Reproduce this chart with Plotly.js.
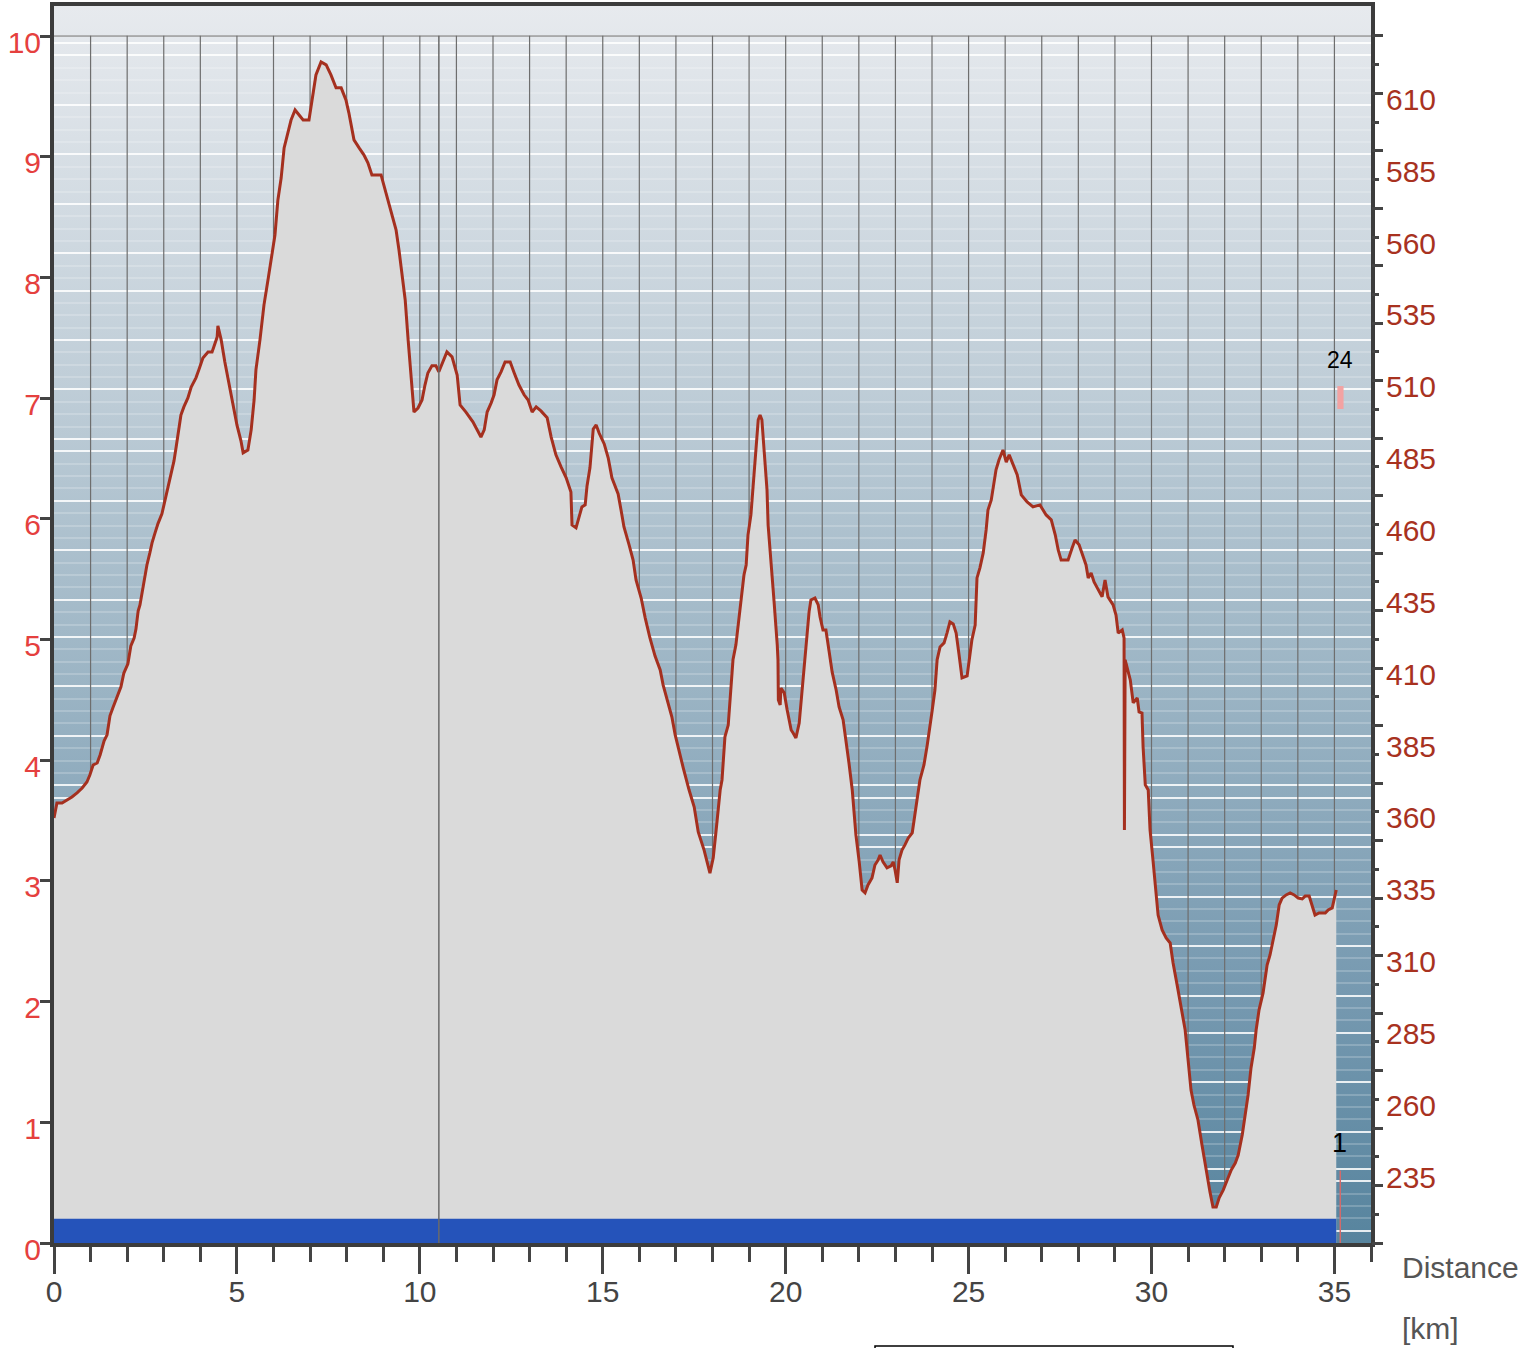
<!DOCTYPE html>
<html>
<head>
<meta charset="utf-8">
<script src="https://cdn.plot.ly/plotly-3.0.1.min.js"></script>
<style>html,body{margin:0;padding:0;background:#fff;}#chart{width:1527px;height:1348px;}</style>
</head>
<body>
<div id="chart"></div>
<script>
// ---- Data ----
// distance along the route [km]
const distanceKm = [
0,0.08,0.22,0.36,0.49,0.63,0.77,0.90,0.98,1.07,
1.18,1.26,1.37,1.45,1.53,1.61,1.72,1.83,1.91,2.02,
2.10,2.19,2.24,2.30,2.35,2.43,2.49,2.54,2.62,2.68,
2.76,2.84,2.95,3.01,3.09,3.17,3.28,3.34,3.39,3.47,
3.55,3.66,3.75,3.88,3.96,4.07,4.21,4.32,4.37,4.46,
4.48,4.57,4.67,4.78,4.89,5.00,5.11,5.17,5.30,5.39,
5.47,5.52,5.63,5.74,5.85,5.96,6.04,6.12,6.21,6.29,
6.40,6.48,6.59,6.70,6.81,6.97,7.05,7.16,7.30,7.44,
7.57,7.71,7.85,7.98,8.06,8.20,8.34,8.47,8.58,8.69,
8.94,9.05,9.16,9.24,9.35,9.43,9.51,9.60,9.68,9.76,
9.84,9.95,10.06,10.14,10.22,10.33,10.44,10.52,10.63,10.74,
10.88,11.02,11.10,11.26,11.45,11.59,11.67,11.76,11.84,11.95,
12.03,12.11,12.22,12.33,12.47,12.58,12.71,12.85,12.96,13.07,
13.18,13.31,13.48,13.59,13.72,13.86,14.00,14.13,14.16,14.27,
14.35,14.43,14.52,14.57,14.65,14.74,14.82,14.90,15.04,15.15,
15.25,15.42,15.50,15.58,15.72,15.83,15.91,16.05,16.16,16.29,
16.43,16.57,16.65,16.78,16.89,16.98,17.09,17.20,17.36,17.50,
17.61,17.77,17.93,18.02,18.10,18.21,18.26,18.34,18.43,18.51,
18.56,18.64,18.73,18.78,18.86,18.92,18.97,19.05,19.11,19.19,
19.25,19.30,19.35,19.41,19.49,19.52,19.60,19.68,19.77,19.79,
19.80,19.85,19.87,19.96,20.04,20.15,20.20,20.28,20.37,20.45,
20.50,20.59,20.64,20.69,20.80,20.89,20.94,21.02,21.10,21.19,
21.27,21.38,21.46,21.57,21.65,21.73,21.82,21.87,21.92,22.01,
22.09,22.17,22.25,22.36,22.44,22.53,22.58,22.66,22.77,22.88,
22.94,22.99,23.05,23.10,23.18,23.26,23.35,23.46,23.54,23.59,
23.67,23.78,23.87,23.92,24.00,24.08,24.14,24.22,24.33,24.41,
24.49,24.58,24.66,24.74,24.82,24.96,25.04,25.09,25.18,25.23,
25.31,25.40,25.48,25.53,25.62,25.67,25.75,25.83,25.94,26.03,
26.11,26.22,26.33,26.44,26.60,26.76,26.95,27.12,27.26,27.37,
27.45,27.53,27.72,27.83,27.91,28.02,28.13,28.21,28.27,28.35,
28.43,28.54,28.65,28.73,28.81,28.95,29.03,29.09,29.20,29.25,
29.26,29.28,29.33,29.42,29.50,29.61,29.66,29.74,29.77,29.83,
29.91,29.96,30.04,30.10,30.18,30.29,30.40,30.51,30.59,30.70,
30.81,30.92,31.00,31.08,31.16,31.27,31.38,31.49,31.60,31.68,
31.77,31.85,31.96,32.07,32.18,32.29,32.37,32.48,32.56,32.64,
32.72,32.81,32.86,32.94,33.05,33.16,33.24,33.32,33.41,33.49,
33.57,33.68,33.79,33.90,34.01,34.12,34.20,34.31,34.39,34.47,
34.58,34.75,34.83,34.94,35.05
];
// altitude [m]
const altitudeM = [
357.9,363.1,363.1,364.1,365.2,366.6,368.3,370.4,372.8,376.3,
377.0,379.8,384.7,386.8,393.4,396.2,400.0,403.5,408.3,411.5,
417.7,420.5,423.6,429.9,432.0,438.3,441.4,445.9,450.1,453.6,
457.0,460.2,463.7,467.1,471.7,476.2,482.1,487.0,491.5,498.1,
500.9,504.0,507.8,511.0,513.8,517.9,520.0,520.0,521.8,525.2,
529.1,524.2,516.5,509.2,501.6,494.6,489.1,484.9,485.9,492.9,
503.3,513.8,524.2,536.4,545.1,553.8,560.7,572.9,580.6,591.0,
597.3,600.7,604.2,602.5,600.7,600.7,607.0,616.4,620.9,619.9,
616.4,611.9,611.9,607.7,603.2,593.8,591.0,588.6,585.8,581.6,
581.6,576.4,571.5,567.7,562.5,555.5,546.5,538.1,524.2,513.1,
499.1,500.5,503.3,508.5,512.7,515.2,515.2,513.1,516.5,520.0,
518.3,512.0,501.6,499.1,495.7,492.2,490.4,492.9,499.1,502.3,
505.1,510.3,513.1,516.5,516.5,512.7,508.5,505.1,503.3,499.1,
500.9,499.5,497.1,490.4,484.2,480.0,476.2,471.3,459.8,458.8,
462.3,466.1,466.8,473.4,479.7,493.2,494.6,491.8,488.0,483.1,
476.2,470.6,465.0,459.1,452.9,447.6,440.7,434.4,427.5,420.5,
414.2,409.4,404.2,398.2,393.0,386.8,380.8,375.3,367.6,361.7,
353.0,346.7,338.7,344.0,353.7,367.6,371.1,386.1,390.2,404.2,
412.9,418.1,428.5,433.7,442.4,445.9,456.3,463.3,473.7,485.9,
496.4,498.1,496.4,485.9,472.0,459.8,447.6,433.7,418.1,412.9,
398.9,397.2,403.1,401.4,395.5,388.5,387.5,385.7,390.9,402.4,
410.1,423.3,429.6,433.7,434.4,432.0,427.8,423.3,423.3,415.6,
408.7,402.4,396.5,392.0,385.0,377.0,367.6,358.9,352.0,342.6,
332.8,331.8,334.6,337.0,341.5,343.3,345.0,342.6,340.5,341.2,
342.6,339.8,335.3,343.3,346.7,348.5,350.9,352.7,358.9,364.1,
371.1,376.3,383.3,388.5,394.8,402.4,412.9,417.4,418.8,422.2,
426.1,425.4,422.2,414.6,406.6,407.3,416.3,419.8,425.0,441.4,
444.9,450.1,458.1,465.0,468.5,472.0,479.0,482.4,485.9,481.7,
484.2,480.7,477.2,470.3,467.8,466.1,466.8,463.3,461.6,456.3,
451.1,447.6,447.6,451.8,454.6,452.9,448.7,445.9,441.4,443.1,
440.0,437.2,434.8,440.7,434.8,432.0,428.5,422.2,423.3,420.5,
353.7,412.9,410.1,405.9,397.9,399.6,394.8,394.4,382.6,369.4,
367.6,353.7,343.3,334.6,324.1,318.9,316.1,314.4,307.4,299.8,
291.8,284.1,273.7,263.2,258.0,252.8,244.1,235.4,227.7,222.5,
222.5,225.7,228.4,231.9,235.4,237.8,240.6,247.6,254.5,261.5,
270.9,277.9,284.1,291.1,297.0,306.7,310.2,315.4,320.6,327.6,
330.0,331.1,331.8,331.1,330.0,329.7,330.7,330.7,327.6,324.1,
324.8,324.8,325.9,326.6,332.8
];
// blue band along the bottom (left scale)
const bandStartKm = [0];
const bandEndKm = [35.05];
const bandLevel = [0.2];
// left-axis ticks (0..10) and right-axis altitude labels
const leftTicks = [0,1,2,3,4,5,6,7,8,9,10];
const altitudeLabels = [235,260,285,310,335,360,385,410,435,460,485,510,535,560,585,610];
const distanceTicks = [0,5,10,15,20,25,30,35];
// lap markers
const lapLabels = ['24','1'];
const lapKm = [35.16, 35.16];
const lapLabelLevel = [7.32, 0.83];
const lapBarFrom = [6.91, 0.0];
const lapBarTo = [7.10, 0.60];
const markerLineKm = [10.52];

// ---- Styling ----
const FONT = 'Liberation Sans, Arial, sans-serif';
const W = 1317, H = 1237;
const ALT_MIN = 210, ALT_MAX = 640.37, ALT_TOP_GRID = 630; // right scale: 210 m at 0, 630 m at 10
const LEFT_MAX = 10.249;
const X_MAX = 36;

// background: gradient with faint horizontal striping
const cv = document.createElement('canvas');
cv.width = W; cv.height = H;
const g = cv.getContext('2d');
const grad = g.createLinearGradient(0, 0, 0, H);
grad.addColorStop(0, '#e7eaee');
grad.addColorStop(0.3, '#c0ced8');
grad.addColorStop(0.55, '#9bb4c4');
grad.addColorStop(0.8, '#7699b0');
grad.addColorStop(1, '#57849e');
g.fillStyle = grad; g.fillRect(0, 0, W, H);
const bright = new Set([1,5,6,9,13,17,20,24,28,32,33,36,37,41,45,49,52,56,60,64,65,69,73,77,80,84,88,92,96,97]);
for (let k = 1; k <= 97; k++) {
  const y = H * (1 - k / 100);
  g.fillStyle = bright.has(k) ? 'rgba(255,255,255,0.85)' : 'rgba(255,255,255,0.2)';
  g.fillRect(0, Math.round(y) - 1, W, 2);
}
const yTen = H * (1 - 10 / LEFT_MAX);
g.fillStyle = '#9a9a9a';
g.fillRect(0, yTen - 0.75, W, 1.5);
const bgURL = cv.toDataURL('image/png');

// 1-km grid, only above the profile: each segment runs from the profile up to the 630 m line
function profileAt(d) {
  for (let j = 0; j < distanceKm.length - 1; j++) {
    const d0 = distanceKm[j], d1 = distanceKm[j + 1];
    if (d >= d0 && d <= d1) {
      const t = d1 > d0 ? (d - d0) / (d1 - d0) : 0;
      return altitudeM[j] + t * (altitudeM[j + 1] - altitudeM[j]);
    }
  }
  return ALT_MIN;
}
const gridX = [], gridY = [];
for (let i = 1; i < X_MAX; i++) {
  const base = i <= distanceKm[distanceKm.length - 1] ? profileAt(i) : ALT_MIN;
  gridX.push(i, i, null); gridY.push(base, ALT_TOP_GRID, null);
}

// closed area under the profile (profile, then down to the axis bottom and back)
const areaX = distanceKm.concat([distanceKm[distanceKm.length - 1], distanceKm[0]]);
const areaY = altitudeM.concat([ALT_MIN - 5, ALT_MIN - 5]);

const shapes = [];
markerLineKm.forEach(k => shapes.push({type:'line', xref:'x', yref:'y', x0:k, x1:k, y0:ALT_MIN, y1:ALT_TOP_GRID,
  line:{color:'#6a6a6a', width:1.5}, layer:'above'}));
shapes.push({type:'rect', xref:'x', yref:'y2', x0:lapKm[0]-0.08, x1:lapKm[0]+0.09, y0:lapBarFrom[0], y1:lapBarTo[0],
  fillcolor:'#f3a2a2', line:{width:0}, layer:'above'});
shapes.push({type:'line', xref:'x', yref:'y2', x0:lapKm[1], x1:lapKm[1], y0:lapBarFrom[1], y1:lapBarTo[1],
  line:{color:'#d36a6a', width:1.5}, layer:'above'});
shapes.push({type:'rect', xref:'paper', yref:'paper', x0:(875-54)/W, x1:(1233-54)/W, y0:-0.13, y1:(1243-1346)/H,
  line:{color:'#000', width:1.5}, fillcolor:'rgba(0,0,0,0)'});

const minorAlt = [], majorAlt = [];
for (let a = 210; a <= 630; a += 20) majorAlt.push(a);
for (let a = 220; a <= 620; a += 20) minorAlt.push(a);

const traces = [
  {x: gridX, y: gridY, yaxis:'y', type:'scatter', mode:'lines', line:{color:'#6e6e6e', width:1.2},
   hoverinfo:'skip', showlegend:false, connectgaps:false},
  {x: areaX, y: areaY, yaxis:'y', type:'scatter', mode:'lines', line:{width:0, color:'#dadada'},
   fill:'toself', fillcolor:'#dadada', hoverinfo:'skip', showlegend:false},
  {x: distanceKm, y: altitudeM, yaxis:'y', type:'scatter', mode:'lines', name:'Altitude',
   line:{color:'#a5301f', width:3}},
  {x: [bandStartKm[0], bandEndKm[0]], y: [bandLevel[0], bandLevel[0]], yaxis:'y2', type:'scatter', mode:'lines',
   line:{width:0, color:'#2553ba'}, fill:'tozeroy', fillcolor:'#2553ba', name:'band'},
  {x: [], y: [], yaxis:'y3', type:'scatter', mode:'lines', showlegend:false}
];

const annotations = [
  {xref:'paper', yref:'paper', x:(1400-54)/W, y:(1243-1268)/H, xanchor:'left', yanchor:'middle', showarrow:false,
   text:'Distance', font:{family:FONT, size:30, color:'#555'}},
  {xref:'paper', yref:'paper', x:(1400-54)/W, y:(1243-1328)/H, xanchor:'left', yanchor:'middle', showarrow:false,
   text:'[km]', font:{family:FONT, size:30, color:'#555'}},
  {xref:'x', yref:'y2', x:lapKm[0], y:lapLabelLevel[0], text:lapLabels[0], showarrow:false,
   font:{family:FONT, size:23, color:'#000'}},
  {xref:'x', yref:'y2', x:lapKm[1]-0.02, y:lapLabelLevel[1], text:lapLabels[1], showarrow:false,
   font:{family:FONT, size:27, color:'#000'}}
];

const layout = {
  width:1527, height:1348,
  margin:{l:54, r:156, t:6, b:105, pad:0},
  paper_bgcolor:'#ffffff', plot_bgcolor:'#c0ccd6',
  showlegend:false,
  font:{family:FONT},
  images:[{source:bgURL, xref:'paper', yref:'paper', x:0, y:1, sizex:1, sizey:1,
    xanchor:'left', yanchor:'top', sizing:'stretch', layer:'below'}],
  xaxis:{range:[0,X_MAX], tickmode:'array', tickvals:distanceTicks, ticks:'outside', ticklen:27, tickwidth:3,
    tickcolor:'#444', tickfont:{family:FONT, size:30, color:'#444'}, ticklabelstandoff:-8, showline:true, linewidth:4,
    linecolor:'#3c3c3c', mirror:true, showgrid:false, zeroline:false, fixedrange:true,
    minor:{tickmode:'linear', tick0:0, dtick:1, ticks:'outside', ticklen:15, tickwidth:3, tickcolor:'#444', showgrid:false}},
  yaxis:{range:[ALT_MIN, ALT_MAX], side:'right', tickmode:'array', tickvals:altitudeLabels, ticks:'',
    tickfont:{family:FONT, size:30, color:'#a8321f'}, ticklabelshift:6, ticklabelstandoff:5,
    showline:true, linewidth:4, linecolor:'#3c3c3c', showgrid:false, zeroline:false, fixedrange:true},
  yaxis2:{range:[0, LEFT_MAX], overlaying:'y', side:'left', tickmode:'array', tickvals:leftTicks,
    ticks:'outside', ticklen:10, tickwidth:3, tickcolor:'#444', tickfont:{family:FONT, size:30, color:'#e5403e'},
    ticklabelshift:6, ticklabelstandoff:-7, showline:true, linewidth:4, linecolor:'#3c3c3c', showgrid:false, zeroline:false, fixedrange:true},
  yaxis3:{range:[ALT_MIN, ALT_MAX], overlaying:'y', side:'right', tickmode:'array', tickvals:majorAlt,
    ticks:'outside', ticklen:11, tickwidth:3, tickcolor:'#444', showticklabels:false, showline:false,
    showgrid:false, zeroline:false, fixedrange:true,
    minor:{tickmode:'array', tickvals:minorAlt, ticks:'outside', ticklen:7, tickwidth:3, tickcolor:'#444', showgrid:false}},
  shapes:shapes,
  annotations:annotations
};

Plotly.newPlot('chart', traces, layout, {staticPlot:true, displayModeBar:false});
</script>
</body>
</html>
